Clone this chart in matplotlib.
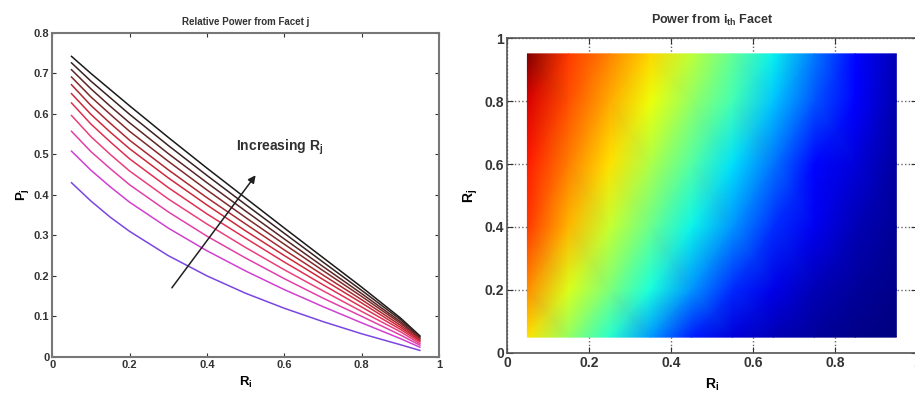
import numpy as np
import matplotlib
matplotlib.use('Agg')
import matplotlib.pyplot as plt

plt.rcParams['font.family'] = ['Liberation Sans', 'DejaVu Sans']

# left panel: relative power curves, one per R_j
ri = [0.05, 0.1, 0.15, 0.2, 0.3, 0.4, 0.5, 0.6, 0.7, 0.8, 0.9, 0.95]
p_curves = [
    [0.742, 0.700, 0.660, 0.620, 0.542, 0.466, 0.392, 0.318, 0.245, 0.172, 0.096, 0.052],
    [0.726, 0.681, 0.640, 0.599, 0.522, 0.448, 0.376, 0.305, 0.234, 0.164, 0.092, 0.050],
    [0.709, 0.662, 0.619, 0.578, 0.502, 0.430, 0.360, 0.291, 0.223, 0.156, 0.087, 0.047],
    [0.691, 0.642, 0.599, 0.557, 0.483, 0.412, 0.344, 0.278, 0.213, 0.149, 0.083, 0.045],
    [0.672, 0.621, 0.577, 0.535, 0.462, 0.393, 0.328, 0.264, 0.202, 0.141, 0.078, 0.042],
    [0.650, 0.599, 0.555, 0.514, 0.442, 0.375, 0.311, 0.250, 0.191, 0.133, 0.073, 0.040],
    [0.627, 0.575, 0.531, 0.489, 0.418, 0.353, 0.293, 0.234, 0.178, 0.123, 0.068, 0.037],
    [0.596, 0.544, 0.500, 0.459, 0.390, 0.328, 0.270, 0.215, 0.163, 0.112, 0.062, 0.033],
    [0.557, 0.507, 0.465, 0.425, 0.358, 0.298, 0.244, 0.193, 0.145, 0.100, 0.054, 0.029],
    [0.508, 0.461, 0.420, 0.382, 0.318, 0.262, 0.212, 0.166, 0.124, 0.084, 0.045, 0.024],
    [0.430, 0.385, 0.345, 0.310, 0.250, 0.200, 0.157, 0.120, 0.087, 0.057, 0.030, 0.016],
]
line_colors = ['#1a1a1a', '#3a2222', '#5a2626', '#802a2a', '#a82a30', '#cc2a3a',
               '#e03050', '#e8407c', '#e040a8', '#d040d0', '#7a46e0']

# right panel: power from i-th facet (jet colour level read per cell)
grid_ri = [0.05, 0.15, 0.25, 0.35, 0.45, 0.55, 0.65, 0.75, 0.85, 0.95]
grid_rj = [0.05, 0.2, 0.4, 0.6, 0.8, 0.95]
power = [
    [0.67, 0.53, 0.40, 0.276, 0.156, 0.08, 0.05, 0.025, 0.01, 0.00],
    [0.76, 0.615, 0.50, 0.38, 0.27, 0.167, 0.09, 0.05, 0.025, 0.01],
    [0.85, 0.717, 0.593, 0.48, 0.365, 0.27, 0.17, 0.10, 0.05, 0.02],
    [0.88, 0.775, 0.67, 0.56, 0.45, 0.345, 0.24, 0.13, 0.08, 0.03],
    [0.92, 0.825, 0.73, 0.64, 0.53, 0.43, 0.32, 0.21, 0.11, 0.04],
    [1.00, 0.85, 0.77, 0.68, 0.58, 0.47, 0.36, 0.245, 0.13, 0.05],
]

left_xticks = [0, 0.2, 0.4, 0.6, 0.8, 1]
left_xlabels = ['0', '0.2', '0.4', '0.6', '0.8', '1']
left_yticks = [0, 0.1, 0.2, 0.3, 0.4, 0.5, 0.6, 0.7, 0.8]
left_ylabels = ['0', '0.1', '0.2', '0.3', '0.4', '0.5', '0.6', '0.7', '0.8']
right_ticks = [0, 0.2, 0.4, 0.6, 0.8, 1]
right_labels = ['0', '0.2', '0.4', '0.6', '0.8', '1']

fig = plt.figure(figsize=(9.15, 4.01), dpi=100)

# ---- left
ax1 = fig.add_axes([0.057, 0.110, 0.423, 0.808])
for vals, c in zip(p_curves, line_colors):
    ax1.plot(ri, vals, color=c, lw=1.1)
ax1.annotate('', xy=(0.53, 0.454), xytext=(0.305, 0.165),
             arrowprops=dict(arrowstyle='-|>', color='#202020', lw=1.1,
                             mutation_scale=11))
ax1.text(0.475, 0.518, 'Increasing R$_\\mathregular{j}$', fontsize=10,
         fontweight='bold', color='#303030', va='center')
ax1.set_xlim(0, 1)
ax1.set_ylim(0, 0.8)
ax1.set_xticks(left_xticks)
ax1.set_xticklabels(left_xlabels)
ax1.set_yticks(left_yticks)
ax1.set_yticklabels(left_ylabels)
ax1.tick_params(direction='in', length=3, top=True, right=True,
                labelsize=8, colors='#333333', pad=2)
for lab in ax1.get_xticklabels() + ax1.get_yticklabels():
    lab.set_fontweight('bold')
for s in ax1.spines.values():
    s.set_color('#777777')
    s.set_linewidth(1.5)
ax1.set_title('Relative Power from Facet j', fontsize=7, fontweight='bold',
              color='#333333', pad=6)
ax1.set_xlabel('R$_\\mathregular{i}$', fontsize=9.5, fontweight='bold', labelpad=4)
ax1.set_ylabel('P$_\\mathregular{j}$', fontsize=9.5, fontweight='bold', labelpad=2)

# ---- right
ax2 = fig.add_axes([0.554, 0.120, 0.448, 0.785])
ax2.set_axisbelow(True)
ax2.grid(True, linestyle=':', color='#666666', lw=1.0)
ax2.pcolormesh(grid_ri, grid_rj, np.array(power), shading='gouraud',
               cmap='jet', vmin=0, vmax=1, zorder=1)
ax2.set_xlim(0, 1)
ax2.set_ylim(0, 1)
ax2.set_xticks(right_ticks)
ax2.set_xticklabels(right_labels)
ax2.set_yticks(right_ticks)
ax2.set_yticklabels(right_labels)
ax2.tick_params(direction='in', length=4, top=True, right=True,
                labelsize=10, colors='#333333', pad=2)
for lab in ax2.get_xticklabels() + ax2.get_yticklabels():
    lab.set_fontweight('bold')
for s in ax2.spines.values():
    s.set_color('#555555')
    s.set_linewidth(1.2)
    s.set_zorder(3)
ax2.set_title('Power from i$_\\mathregular{th}$ Facet', fontsize=9,
              fontweight='bold', color='#333333', pad=10)
ax2.set_xlabel('R$_\\mathregular{i}$', fontsize=10, fontweight='bold', labelpad=5)
ax2.set_ylabel('R$_\\mathregular{j}$', fontsize=10, fontweight='bold', labelpad=3)

fig.savefig('out.png', dpi=100)
